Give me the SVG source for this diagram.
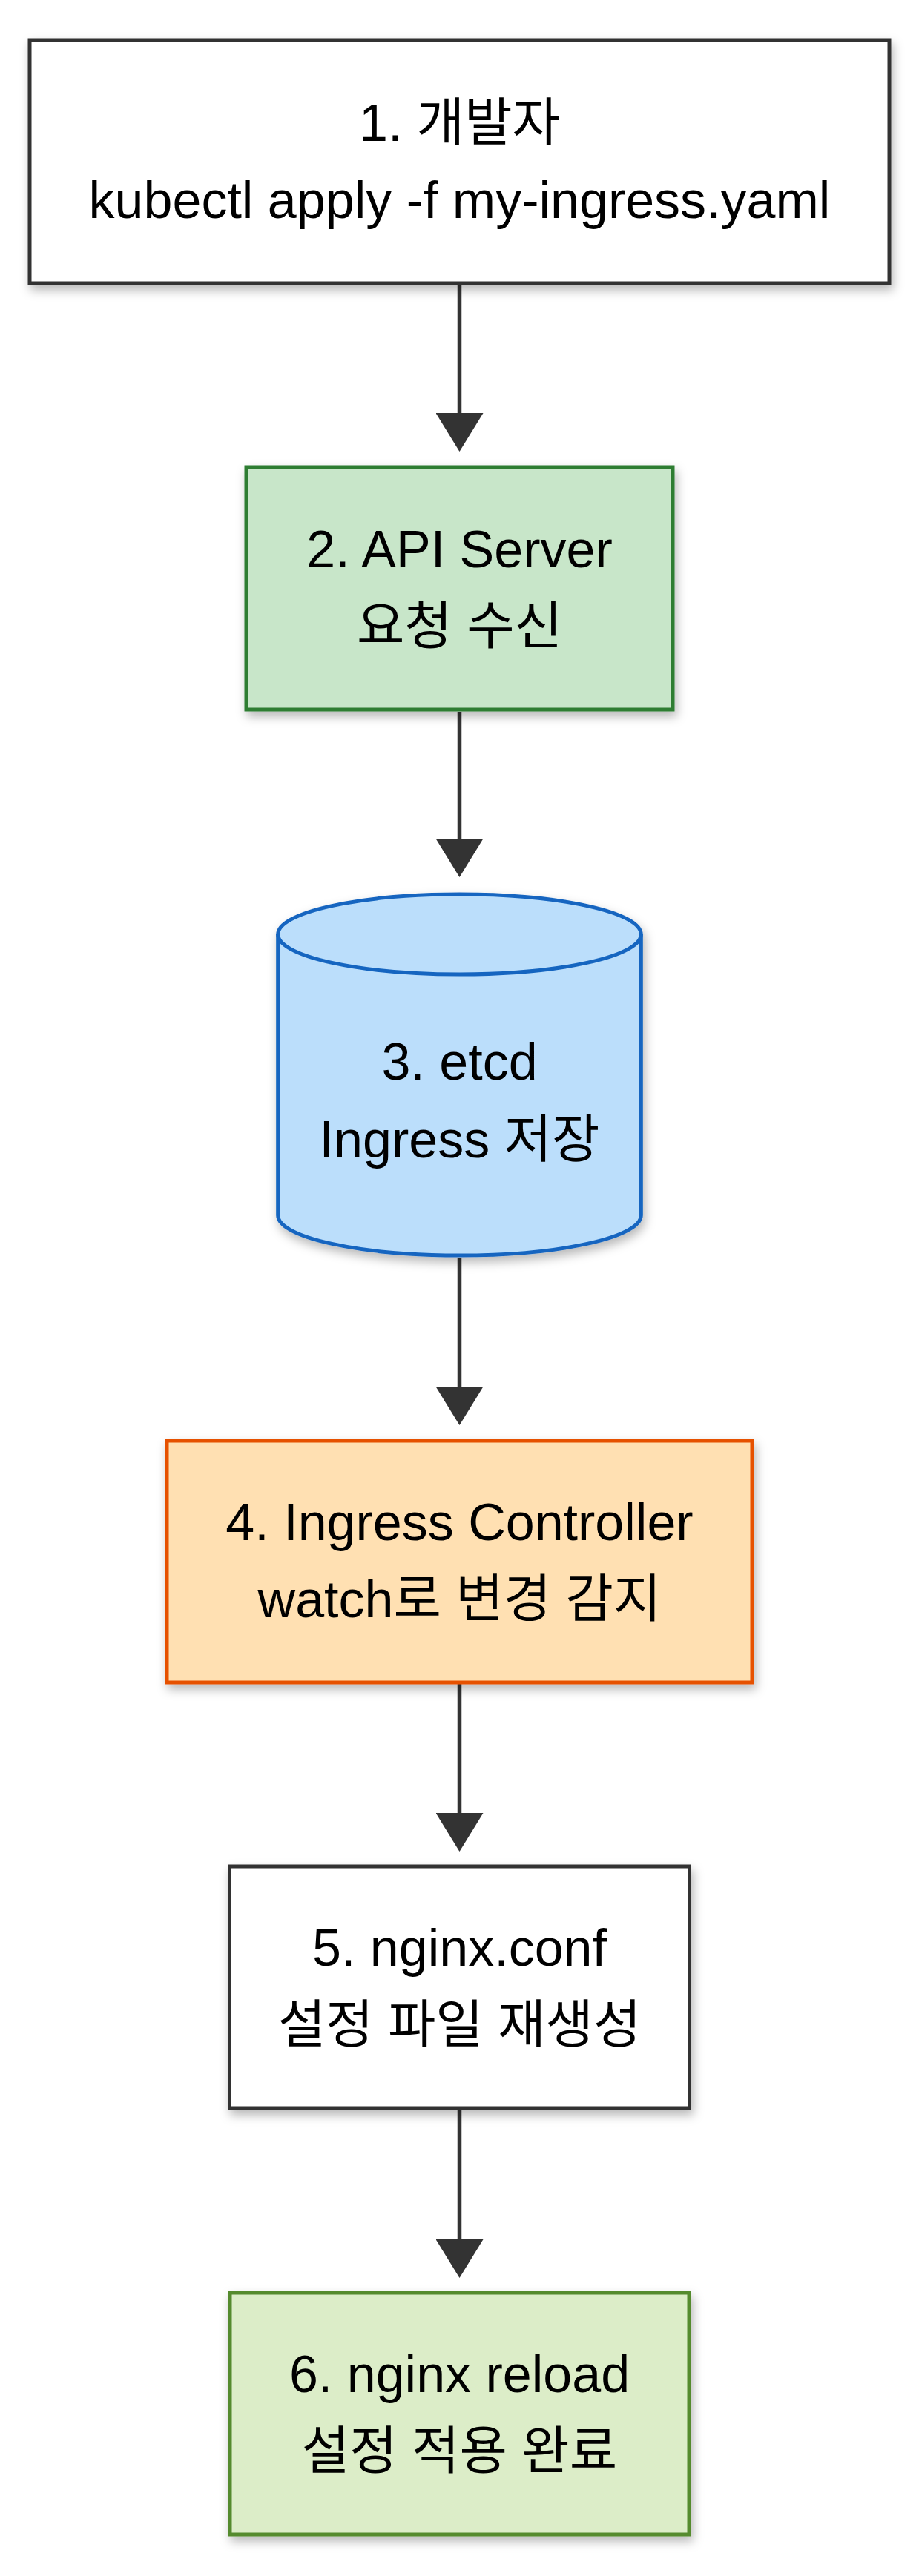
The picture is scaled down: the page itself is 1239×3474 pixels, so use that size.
<svg xmlns="http://www.w3.org/2000/svg" width="1239" height="3474" viewBox="0 0 1239 3474">
  <defs>
    <filter id="shadow" x="-10%" y="-10%" width="125%" height="130%">
      <feDropShadow dx="3" dy="7" stdDeviation="7" flood-color="#000" flood-opacity="0.28"/>
    </filter>
    <marker id="arrow" viewBox="0 0 52 64" refX="1" refY="32" markerWidth="52" markerHeight="64" markerUnits="userSpaceOnUse" orient="auto">
      <path d="M0,0 L52,32 L0,64 Z" fill="#333333"/>
    </marker>
  </defs>
  <style>
    .lbl { font-family: "Liberation Sans", "Noto Sans CJK KR", sans-serif; font-size: 70px; fill: #000; text-anchor: middle; }
    .node { stroke-width: 5; filter: url(#shadow); }
    .edge { stroke: #333333; stroke-width: 5.5; fill: none; marker-end: url(#arrow); }
  </style>
  <rect x="0" y="0" width="1239" height="3474" fill="#ffffff"/>

  <g id="connectors">
    <path class="edge" d="M619.5,385 L619.5,558"/>
    <path class="edge" d="M619.5,960 L619.5,1132"/>
    <path class="edge" d="M619.5,1696 L619.5,1871"/>
    <path class="edge" d="M619.5,2271 L619.5,2446"/>
    <path class="edge" d="M619.5,2846 L619.5,3021"/>
  </g>

  <g id="n1">
    <rect class="node" x="40" y="54" width="1159" height="328" fill="#ffffff" stroke="#333333"/>
    <text class="lbl" x="619.5" y="190">1. 개발자</text>
    <text class="lbl" x="619.5" y="294">kubectl apply -f my-ingress.yaml</text>
  </g>

  <g id="n2">
    <rect class="node" x="332" y="630" width="575" height="327" fill="#c8e6c9" stroke="#2e7d32"/>
    <text class="lbl" x="619.5" y="765">2. API Server</text>
    <text class="lbl" x="619.5" y="869">요청 수신</text>
  </g>

  <g id="n3">
    <path class="node" d="M374.7,1260 A244.8,54 0 0 1 864.3,1260 L864.3,1639 A244.8,54 0 0 1 374.7,1639 Z" fill="#bbdefb" stroke="#1565c0"/>
    <path d="M374.7,1260 A244.8,54 0 0 0 864.3,1260" fill="none" stroke="#1565c0" stroke-width="5"/>
    <text class="lbl" x="619.5" y="1456">3. etcd</text>
    <text class="lbl" x="619.5" y="1561">Ingress 저장</text>
  </g>

  <g id="n4">
    <rect class="node" x="225" y="1943" width="789" height="326" fill="#ffe0b2" stroke="#e65100"/>
    <text class="lbl" x="619.5" y="2077">4. Ingress Controller</text>
    <text class="lbl" x="619.5" y="2181">watch로 변경 감지</text>
  </g>

  <g id="n5">
    <rect class="node" x="309.5" y="2517" width="620" height="326" fill="#ffffff" stroke="#333333"/>
    <text class="lbl" x="619.5" y="2651">5. nginx.conf</text>
    <text class="lbl" x="619.5" y="2755">설정 파일 재생성</text>
  </g>

  <g id="n6">
    <rect class="node" x="310" y="3092" width="619" height="326" fill="#dcedc8" stroke="#558b2f"/>
    <text class="lbl" x="619.5" y="3226">6. nginx reload</text>
    <text class="lbl" x="619.5" y="3330">설정 적용 완료</text>
  </g>
</svg>
